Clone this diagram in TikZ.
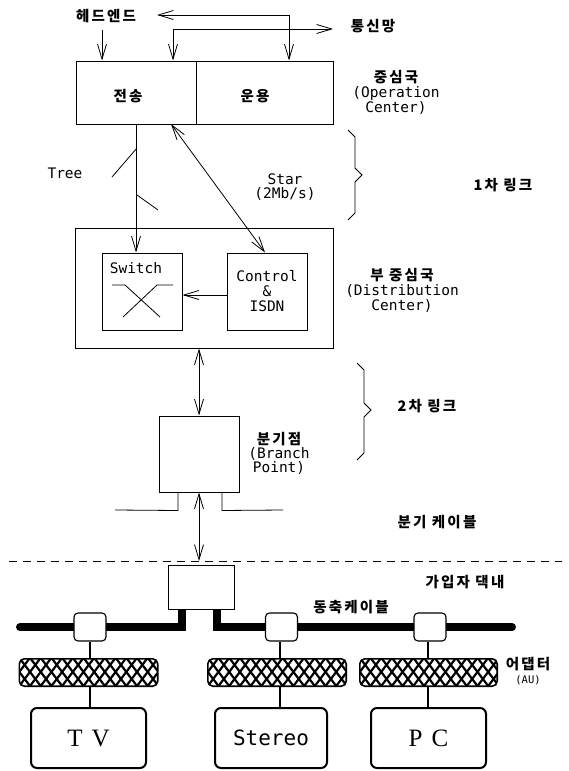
\documentclass[tikz,border=0pt]{standalone}
\usepackage{fontspec}
\setmainfont{Liberation Serif}
\setmonofont{DejaVu Sans Mono}
\newfontfamily\kor{Noto Sans CJK KR}[LetterSpace=15]
\usetikzlibrary{arrows.meta,calc}
\newcommand\hatchbox[1]{%
  \begin{scope}
    \path[clip,rounded corners=5pt] (#1.south west) rectangle (#1.north east);
    \fill[white] (#1.south west) rectangle (#1.north east);
    \foreach \k in {-4,...,17}{
      \draw[line width=2.2pt] ($(#1.north west)+(\k*10.7,-1)$) -- ++(22,29);
      \draw[line width=2.2pt] ($(#1.north west)+(\k*10.7,-1)$) -- ++(-22,29);
    }
  \end{scope}
  \draw[line width=1.6pt,rounded corners=5pt] (#1.south west) rectangle (#1.north east);
}
\newcommand\lat{\ttfamily\mdseries}
\begin{document}
\begin{tikzpicture}[x=1pt,y=-1pt,
  box/.style={draw,line width=1pt,inner sep=0pt},
  tap/.style={draw,fill=white,line width=1.1pt,rounded corners=4pt,inner sep=0pt,minimum width=32pt,minimum height=28pt},
  adapt/.style={inner sep=0pt,minimum width=138pt,minimum height=27pt},
  dev/.style={draw,line width=2pt,rounded corners=6pt,inner sep=0pt,minimum width=115pt,minimum height=60pt},
  kt/.style={font=\kor\bfseries\fontsize{14.5pt}{17pt}\selectfont,inner sep=0pt,align=center},
  lt/.style={font=\ttfamily\fontsize{14.5pt}{16pt}\selectfont,inner sep=0pt,align=center},
  arr/.style={-{Straight Barb[length=15pt,width=9pt]},line width=0.8pt},
  darr/.style={{Straight Barb[length=15pt,width=9pt]}-{Straight Barb[length=15pt,width=9pt]},line width=0.8pt},
  thin/.style={line width=0.8pt}]
\useasboundingbox (0,0) rectangle (569,771);
\fill[white] (0,0) rectangle (569,771);

% operation center
\node[box,minimum width=120pt,minimum height=63pt] (trans) at (136,92.5) {};
\node[box,minimum width=137pt,minimum height=63pt] (oper) at (264.5,92.5) {};
\node[kt] (tlabel) at (128,96) {전송};
\node[kt] (olabel) at (255,96) {운용};

% head-end and network
\node[kt] (he) at (106,16) {헤드엔드};
\node[kt] (net) at (373,26) {통신망};
\coordinate (hA) at (157,15);
\coordinate (c1) at (289,15);
\coordinate (c2) at (173,29);
\coordinate (nB) at (333,29);
\coordinate (c3) at (102,30);
\draw[arr] (c1) -- (hA);
\draw[arr] (c1) -- (c1 |- oper.north);
\draw[arr] (c2) -- (nB);
\draw[arr] (c2) -- (c2 |- trans.north);
\draw[arr] (c3) -- (c3 |- trans.north);

\node[kt,align=center] (oc) at (396,92) {중심국\\[-2pt]\lat (Operation\\[-2pt]\lat Center)};

% distribution center
\node[box,minimum width=258pt,minimum height=120pt] (dist) at (204,288) {};
\node[box,minimum width=80pt,minimum height=77pt] (switch) at (142,291.5) {};
\node[lt] (swl) at (136,268) {Switch};
\node[box,minimum width=80pt,minimum height=77pt,lt,font=\ttfamily\fontsize{14.5pt}{15pt}\selectfont] (ctrl) at (267,291.5) {Control\\\&\\ISDN};
\draw[thin] (112,285) -- (125,285) -- (160,317);
\draw[thin] (173,285) -- (157,285) -- (123,317);
\draw[arr] ([yshift=-3.5pt]ctrl.west) -- ([yshift=-3.5pt]switch.east);

\node[kt,align=center] (dc) at (402,290) {부 중심국\\[-2pt]\lat (Distribution\\[-2pt]\lat Center)};

% tree and star
\draw[arr] (trans.south) -- (trans.south |- switch.north);
\draw[thin] (137,148) -- (112,177);
\draw[thin] (137,195) -- (158,210);
\node[lt] (tree) at (65,173) {Tree};
\coordinate (s1) at (171,124);
\draw[darr] (s1) -- ([xshift=-2pt]ctrl.north);
\node[lt] (star) at (285,187) {Star\\[-2pt](2Mb/s)};

% brace 1
\draw[thin] (348,130) -- (355,137) -- (355,168) -- (362,175) -- (355,182) -- (355,213) -- (348,220);
\node[kt] (l1) at (503,185) {1차 링크};

% branch point
\node[box,minimum width=80pt,minimum height=76pt] (branch) at (199,454) {};
\draw[darr] (branch.north |- dist.south) -- (branch.north);
\node[kt,align=center] (bp) at (279,453) {분기점\\[-3pt]\lat (Branch\\[-3pt]\lat Point)};
\draw[thin] (357,363) -- (364,370) -- (364,403) -- (371,410) -- (364,417) -- (364,453) -- (357,460);
\node[kt] (l2) at (427,406) {2차 링크};
\draw[thin] ($(branch.south)+(-21,0)$) -- ++(0,18) -- (115,510);
\draw[thin] ($(branch.south)+(23,0)$) -- ++(0,18) -- (283,510);
\node[kt] (bc) at (437,522) {분기 케이블};

% boundary
\coordinate (dl) at (branch.south |- 0,561);
\draw[darr] (branch.south) -- (dl);
\draw[thin,dash pattern=on 8pt off 6pt] (9,561) -- (562,561);

% subscriber premises
\node[kt] (home) at (465,582) {가입자 댁내};
\node[kt] (coax) at (351,607) {동축케이블};
\draw[line width=8pt,line cap=round,line join=miter] (20,627) -- (182,627) -- (182,609);
\draw[line width=8pt,line cap=round,line join=miter] (217,609) -- (217,627) -- (512,627);
\node[box,minimum width=66pt,minimum height=44pt,fill=white] (sub) at (201,587) {};

\node[tap] (tvtap) at (90,627) {};
\node[tap] (sttap) at (281.5,627) {};
\node[tap] (pctap) at (430,627) {};

\node[adapt] (tvad) at (88.5,672.5) {};
\node[adapt] (stad) at (277,672.5) {};
\node[adapt,minimum width=137pt] (pcad) at (428.5,672.5) {};
\hatchbox{tvad}
\hatchbox{stad}
\hatchbox{pcad}
\node[kt,align=center] (au) at (528,671) {어댑터\\[-3pt]\lat\fontsize{10.5pt}{11pt}\selectfont (AU)};

\node[dev,font=\fontsize{25pt}{27pt}\selectfont] (tv) at (88.5,738) {T\hspace{9pt}V};
\node[dev,minimum width=112pt,font=\ttfamily\fontsize{21pt}{24pt}\selectfont] (stereo) at (271,738) {Stereo};
\node[dev,font=\fontsize{25pt}{27pt}\selectfont] (pc) at (428.5,738) {P\hspace{9pt}C};

\draw[line width=1.6pt] (tvtap.south) -- (tvtap.south |- tvad.north);
\draw[line width=1.6pt] (sttap.south -| 280,0) -- (280,0 |- stad.north);
\draw[line width=1.6pt] (pctap.south -| 428,0) -- (428,0 |- pcad.north);
\draw[line width=1.6pt] (tvtap.south |- tvad.south) -- (tvtap.south |- tv.north);
\draw[line width=1.6pt] (280,0 |- stad.south) -- (280,0 |- stereo.north);
\draw[line width=1.6pt] (428,0 |- pcad.south) -- (428,0 |- pc.north);
\end{tikzpicture}
\end{document}
